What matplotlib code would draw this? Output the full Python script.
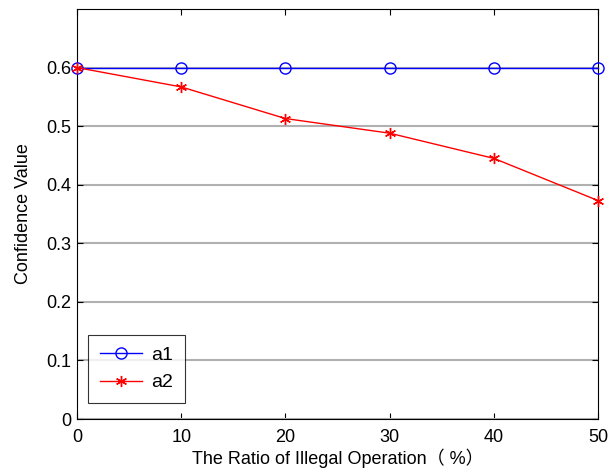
import matplotlib
matplotlib.use("Agg")
import matplotlib.pyplot as plt

plt.rcParams["font.family"] = ["Liberation Sans", "Noto Sans CJK SC"]

ratio = [0, 10, 20, 30, 40, 50]
a1 = [0.6, 0.6, 0.6, 0.6, 0.6, 0.6]
a2 = [0.6, 0.567, 0.513, 0.488, 0.445, 0.373]
yticks = [0, 0.1, 0.2, 0.3, 0.4, 0.5, 0.6]
ytick_labels = ["0", "0.1", "0.2", "0.3", "0.4", "0.5", "0.6"]

fig = plt.figure(figsize=(6.09, 4.73), dpi=100)
ax = fig.add_axes([0.1264, 0.114, 0.8556, 0.867])

ax.plot(ratio, a1, color="blue", marker="o", markersize=8, markerfacecolor="none",
        linewidth=1, label="a1", clip_on=False, zorder=3)
ax.plot(ratio, a2, color="red", marker=(6, 2, 0), markersize=8,
        linewidth=1, label="a2", clip_on=False, zorder=3)

ax.set_xlim(0, 50)
ax.set_ylim(0, 0.7)
ax.set_xticks(ratio)
ax.set_yticks(yticks)
ax.set_yticklabels(ytick_labels)
ax.yaxis.grid(True, color="#b0b0b0", linewidth=1.5)
ax.set_axisbelow(True)
ax.tick_params(direction="in", top=True, right=True, length=4, labelsize=13, pad=4)
ax.tick_params(axis="x", pad=7)

ax.set_xlabel("The Ratio of Illegal Operation（ %）", fontsize=13, labelpad=2)
ax.set_ylabel("Confidence Value", fontsize=13, labelpad=10)

leg = ax.legend(loc="lower left", bbox_to_anchor=(0.021, 0.039), borderaxespad=0,
                fancybox=False, edgecolor="black", fontsize=14, handlelength=2.2,
                borderpad=0.6, labelspacing=0.5, handletextpad=0.45)
leg.get_frame().set_linewidth(0.8)

fig.savefig("out.png", dpi=100)
